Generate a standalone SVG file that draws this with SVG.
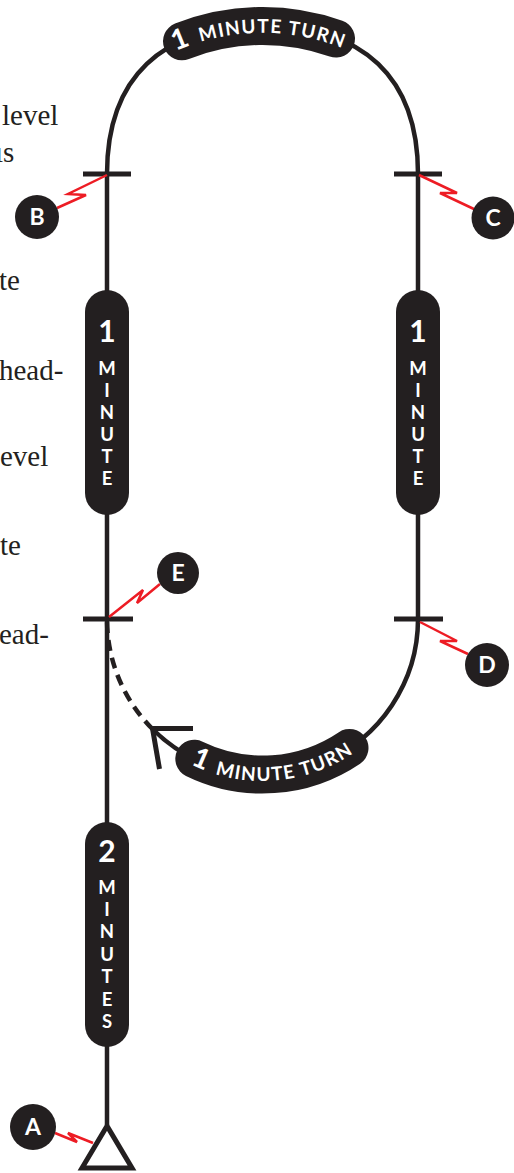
<svg xmlns="http://www.w3.org/2000/svg" width="514" height="1173" viewBox="0 0 514 1173">
<style>
.ln{fill:none;stroke:#231f20;stroke-width:4.5}
.tick{fill:none;stroke:#231f20;stroke-width:5}
.pill{fill:#231f20}
.arcpill{fill:none;stroke:#231f20;stroke-width:38;stroke-linecap:round}
.pt{font-family:Lato,"Open Sans",sans-serif;font-weight:700;fill:#fff;text-anchor:middle}
.big{font-size:30px}
.sm{font-size:18.5px}
.bolt{fill:none;stroke:#ed1c24;stroke-width:2.5;stroke-linejoin:miter}
.mk{fill:#231f20}
.mt{font-family:Lato,"Open Sans",sans-serif;font-weight:700;font-size:23px;fill:#fff;text-anchor:middle}
.body{font-family:"Liberation Serif",serif;font-size:29px;fill:#231f20}
</style>
<defs>
<path id="tp1" d="M137.5,73.3 A213.2,213.2 0 0 1 382,69.4"/>
<path id="tp2" d="M128.2,709.6 A162,162 0 0 0 408.1,690"/>
</defs>
<g id="body-text">
<text class="body" x="2" y="125">level</text>
<text class="body" x="-5" y="162">ıs</text>
<text class="body" x="-1" y="290">te</text>
<text class="body" x="-1" y="380">head-</text>
<text class="body" x="0" y="466">evel</text>
<text class="body" x="0" y="555">te</text>
<text class="body" x="-1" y="644">ead-</text>
</g>
<g id="connectors">
<path class="ln" d="M107,1125 V174 C107,77.8 161.4,26 262.5,26 C363.6,26 418,77.8 418,174 V619 A155.5,155.5 0 0 1 152.5,729"/>
<path class="ln" d="M152.5,729 A155.5,155.5 0 0 1 107,619" stroke-dasharray="11 7"/>
<polyline class="tick" points="193,728.5 152.5,728.5 159.5,769"/>
<path class="tick" d="M83,174 H131 M394,174 H442 M83,619 H133 M394,619 H443"/>
<polyline class="bolt" points="107,175 68,194 86,195 57,208"/>
<polyline class="bolt" points="419,175 457,193 440,193 476,210"/>
<polyline class="bolt" points="109,617 143,590 137,603 160,584"/>
<polyline class="bolt" points="420,622 457,641 440,641 468,654"/>
<polyline class="bolt" points="55,1133 77,1142 68,1133 93,1143"/>
</g>
<g id="start-triangle">
<polygon points="107,1126 82,1168 132,1168" fill="#fff" stroke="#231f20" stroke-width="5"/>
</g>
<g id="turn-top">
<path class="arcpill" d="M182,41.3 A220,220 0 0 1 336,38.6"/>
<text class="pt" font-size="19" letter-spacing="1.3"><textPath href="#tp1" startOffset="50%"><tspan font-size="28">1</tspan><tspan dx="9">MINUTE TURN</tspan></textPath></text>
</g>
<g id="turn-bottom">
<path class="arcpill" d="M194.3,758.8 A155.5,155.5 0 0 0 349.5,747.9"/>
<text class="pt" font-size="19" letter-spacing="1.3"><textPath href="#tp2" startOffset="50%"><tspan font-size="28">1</tspan><tspan dx="9">MINUTE TURN</tspan></textPath></text>
</g>
<g id="leg-left">
<rect class="pill" x="85" y="290" width="44" height="225" rx="22"/>
<text class="pt big" x="107" y="342">1</text>
<text class="pt sm" x="107" y="375">M</text>
<text class="pt sm" x="107" y="397">I</text>
<text class="pt sm" x="107" y="419">N</text>
<text class="pt sm" x="107" y="441">U</text>
<text class="pt sm" x="107" y="463">T</text>
<text class="pt sm" x="107" y="485">E</text>
</g>
<g id="leg-right">
<rect class="pill" x="396" y="290" width="44" height="225" rx="22"/>
<text class="pt big" x="418" y="342">1</text>
<text class="pt sm" x="418" y="375">M</text>
<text class="pt sm" x="418" y="397">I</text>
<text class="pt sm" x="418" y="419">N</text>
<text class="pt sm" x="418" y="441">U</text>
<text class="pt sm" x="418" y="463">T</text>
<text class="pt sm" x="418" y="485">E</text>
</g>
<g id="leg-start">
<rect class="pill" x="85" y="822" width="44" height="225" rx="22"/>
<text class="pt big" x="107" y="862">2</text>
<text class="pt sm" x="107" y="894">M</text>
<text class="pt sm" x="107" y="916">I</text>
<text class="pt sm" x="107" y="938">N</text>
<text class="pt sm" x="107" y="961">U</text>
<text class="pt sm" x="107" y="983">T</text>
<text class="pt sm" x="107" y="1006">E</text>
<text class="pt sm" x="107" y="1028">S</text>
</g>
<g id="marker-A"><circle class="mk" cx="33" cy="1127" r="23"/><text class="mt" x="33" y="1135">A</text></g>
<g id="marker-B"><circle class="mk" cx="37" cy="217" r="22"/><text class="mt" x="37" y="225">B</text></g>
<g id="marker-C"><circle class="mk" cx="493" cy="218" r="21.5"/><text class="mt" x="493" y="226">C</text></g>
<g id="marker-D"><circle class="mk" cx="487" cy="665" r="22"/><text class="mt" x="487" y="673">D</text></g>
<g id="marker-E"><circle class="mk" cx="178" cy="573" r="21"/><text class="mt" x="178" y="581">E</text></g>
</svg>
